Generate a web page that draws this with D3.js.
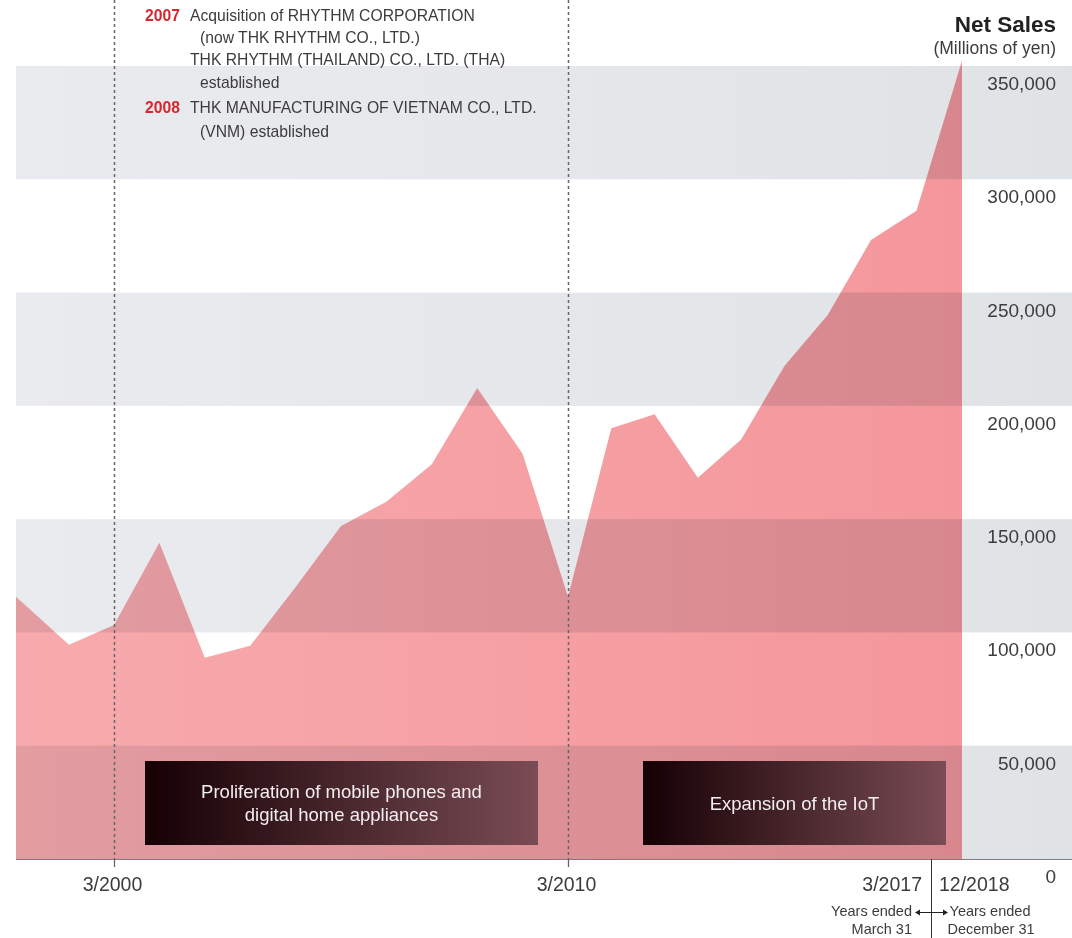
<!DOCTYPE html>
<html>
<head>
<meta charset="utf-8">
<script src="https://cdn.jsdelivr.net/npm/d3@7"></script>
<style>
  body { margin: 0; background: #fff; }
  svg { display: block; font-family: "Liberation Sans", Arial, sans-serif; }
</style>
</head>
<body>
<div id="chart"></div>
<script>
// fiscal periods (years ended March 31, then December 31)
var periods = ["3/1998","3/1999","3/2000","3/2001","3/2002","3/2003","3/2004","3/2005",
               "3/2006","3/2007","3/2008","3/2009","3/2010","3/2011","3/2012","3/2013",
               "3/2014","3/2015","3/2016","3/2017","12/2017","12/2018"];
// net sales, millions of yen
var netSales = [115800, 94600, 103300, 139600, 88800, 94100, 120000, 147000,
                157700, 174200, 207900, 178900, 115800, 190100, 196300, 168300,
                185200, 217600, 240100, 273200, 286100, 352400];
var yTicks = [0, 50000, 100000, 150000, 200000, 250000, 300000, 350000];
var markedPeriods = ["3/2000", "3/2010"];

var W = 1072, H = 938;
var svg = d3.select("#chart").append("svg").attr("width", W).attr("height", H);
var defs = svg.append("defs");

var plotLeft = 16, plotRight = W, base = 859, plotTop = 66;
var labelColor = "#3c3c3c";

// x positions by period index (spacing changes after 3/2010 in the original)
var x = d3.scaleLinear()
    .domain([0, 1, 2, 12, 19, 21])
    .range([16, 69, 114, 568, 871, 962]);
var y = d3.scaleLinear().domain([0, 350000]).range([base, plotTop]);

function grad(id, c0, c1) {
  var g = defs.append("linearGradient").attr("id", id)
    .attr("gradientUnits", "userSpaceOnUse")
    .attr("x1", plotLeft).attr("x2", plotRight).attr("y1", 0).attr("y2", 0);
  g.append("stop").attr("offset", 0).attr("stop-color", c0);
  g.append("stop").attr("offset", 1).attr("stop-color", c1);
}
grad("bandGrad", "#eaebee", "#e0e3e6");
grad("areaGrad", "#f7aaad", "#f4959a");

var bg = defs.append("linearGradient").attr("id", "boxGrad");
bg.append("stop").attr("offset", 0).attr("stop-color", "#150003");
bg.append("stop").attr("offset", 1).attr("stop-color", "#7a4c55");

// alternating bands
var bands = d3.range(0, yTicks.length - 1).filter(function(i) { return i % 2 === 0; });
svg.append("g").selectAll("rect").data(bands).enter().append("rect")
  .attr("x", plotLeft)
  .attr("width", plotRight - plotLeft)
  .attr("y", function(i) { return y(yTicks[i + 1]); })
  .attr("height", function(i) { return y(yTicks[i]) - y(yTicks[i + 1]); })
  .attr("fill", "url(#bandGrad)");

// area
var area = d3.area()
  .x(function(d, i) { return x(i); })
  .y0(base)
  .y1(function(d) { return y(d); });

svg.append("path")
  .datum(netSales)
  .attr("d", area)
  .attr("fill", "url(#areaGrad)")
  .style("mix-blend-mode", "multiply");

// baseline
svg.append("line")
  .attr("x1", plotLeft).attr("x2", plotRight)
  .attr("y1", base + 0.5).attr("y2", base + 0.5)
  .attr("stroke", "#7d7d7d").attr("stroke-width", 1);

// dotted period markers
markedPeriods.forEach(function(p) {
  var px = Math.round(x(periods.indexOf(p))) + 0.5;
  svg.append("line")
    .attr("x1", px).attr("x2", px).attr("y1", 0).attr("y2", base)
    .attr("stroke", "#666").attr("stroke-width", 1.5)
    .attr("stroke-dasharray", "3,3");
  svg.append("line")
    .attr("x1", px).attr("x2", px).attr("y1", base).attr("y2", base + 8)
    .attr("stroke", "#666").attr("stroke-width", 1.3);
  svg.append("text")
    .attr("x", px - 2).attr("y", 891)
    .attr("text-anchor", "middle")
    .attr("font-size", "19.5px").attr("fill", labelColor)
    .text(p);
});

// y labels on the right
svg.append("g").selectAll("text").data(yTicks).enter().append("text")
  .attr("x", 1056)
  .attr("y", function(d) { return y(d) + 24; })
  .attr("text-anchor", "end")
  .attr("font-size", "19px")
  .attr("fill", labelColor)
  .text(function(d) { return d3.format(",")(d); });

svg.append("text").attr("x", 1056).attr("y", 32)
  .attr("text-anchor", "end").attr("font-size", "22.5px").attr("font-weight", "bold")
  .attr("fill", "#222").text("Net Sales");
svg.append("text").attr("x", 1056).attr("y", 54)
  .attr("text-anchor", "end").attr("font-size", "17.5px")
  .attr("fill", labelColor).text("(Millions of yen)");

// fiscal year change
var sepX = 931.5;
svg.append("line")
  .attr("x1", sepX).attr("x2", sepX).attr("y1", base).attr("y2", H)
  .attr("stroke", "#333").attr("stroke-width", 1);
svg.append("text").attr("x", 922).attr("y", 891).attr("text-anchor", "end")
  .attr("font-size", "19.5px").attr("fill", labelColor).text("3/2017");
svg.append("text").attr("x", 939).attr("y", 891).attr("text-anchor", "start")
  .attr("font-size", "19.5px").attr("fill", labelColor).text("12/2018");

var small = [
  { t: "Years ended", x: 912, y: 916, a: "end" },
  { t: "March 31", x: 912, y: 934, a: "end" },
  { t: "Years ended", x: 990, y: 916, a: "middle" },
  { t: "December 31", x: 991, y: 934, a: "middle" }
];
svg.append("g").selectAll("text").data(small).enter().append("text")
  .attr("x", function(d) { return d.x; })
  .attr("y", function(d) { return d.y; })
  .attr("text-anchor", function(d) { return d.a; })
  .attr("font-size", "14.5px").attr("fill", labelColor)
  .text(function(d) { return d.t; });

// double arrow
svg.append("line").attr("x1", 918).attr("x2", 945).attr("y1", 912.5).attr("y2", 912.5)
  .attr("stroke", "#222").attr("stroke-width", 1);
svg.append("path").attr("d", "M915,912.5 l5,-3 v6 z").attr("fill", "#222");
svg.append("path").attr("d", "M948,912.5 l-5,-3 v6 z").attr("fill", "#222");

// era boxes
var boxes = [
  { x0: 145, x1: 538, lines: ["Proliferation of mobile phones and", "digital home appliances"] },
  { x0: 643, x1: 946, lines: ["Expansion of the IoT"] }
];
boxes.forEach(function(b) {
  svg.append("rect")
    .attr("x", b.x0).attr("y", 761)
    .attr("width", b.x1 - b.x0).attr("height", 84)
    .attr("fill", "url(#boxGrad)");
  var cy = 803 - (b.lines.length - 1) * 11.5;
  b.lines.forEach(function(l, i) {
    svg.append("text")
      .attr("x", (b.x0 + b.x1) / 2).attr("y", cy + i * 23 + 6.5)
      .attr("text-anchor", "middle")
      .attr("font-size", "18.5px").attr("fill", "#f4eef0")
      .text(l);
  });
});

// milestones
var notes = [
  { yr: "2007", t: "Acquisition of RHYTHM CORPORATION", ind: 0, y: 21 },
  { yr: "", t: "(now THK RHYTHM CO., LTD.)", ind: 10, y: 43 },
  { yr: "", t: "THK RHYTHM (THAILAND) CO., LTD. (THA)", ind: 0, y: 65 },
  { yr: "", t: "established", ind: 10, y: 88 },
  { yr: "2008", t: "THK MANUFACTURING OF VIETNAM CO., LTD.", ind: 0, y: 113 },
  { yr: "", t: "(VNM) established", ind: 10, y: 137 }
];
var ng = svg.append("g").attr("font-size", "15.7px");
notes.forEach(function(n) {
  if (n.yr) {
    ng.append("text").attr("x", 145).attr("y", n.y)
      .attr("font-weight", "bold").attr("fill", "#d8262e").text(n.yr);
  }
  ng.append("text").attr("x", 190 + n.ind).attr("y", n.y)
    .attr("fill", labelColor).text(n.t);
});
</script>
</body>
</html>
